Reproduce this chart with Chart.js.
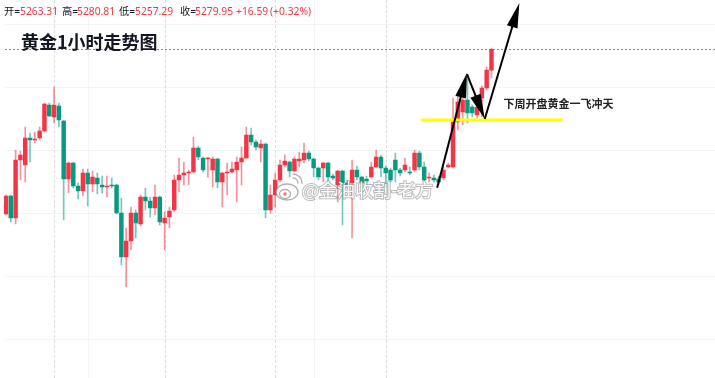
<!DOCTYPE html>
<html>
<head>
<meta charset="utf-8">
<script src="https://cdn.jsdelivr.net/npm/chart.js@4.4.1/dist/chart.umd.min.js"></script>
<style>
  body { margin: 0; background: #fff; }
</style>
</head>
<body>
<canvas id="chart_gold_1h" width="715" height="378"></canvas>
<script>
// 黄金 1小时 K线 (102 根)
var opens = [5149.20,5163.48,5146.02,5192.06,5188.08,5209.52,5207.92,5209.52,5215.08,5235.70,
  5226.18,5234.92,5223.00,5176.98,5189.68,5171.42,5167.46,5181.74,5173.00,5177.76,
  5172.22,5170.62,5172.22,5172.22,5150.00,5115.06,5127.76,5150.00,5141.26,5162.68,
  5159.52,5153.96,5162.68,5142.06,5146.82,5152.38,5176.18,5180.14,5181.74,5182.54,
  5201.58,5193.64,5192.84,5184.12,5192.84,5174.60,5181.74,5182.54,5184.12,5190.46,
  5193.64,5211.90,5206.34,5201.58,5204.76,5152.38,5164.28,5176.18,5188.08,5190.46,
  5183.32,5191.26,5192.06,5197.62,5192.84,5185.70,5185.70,5189.68,5179.36,5172.22,
  5183.32,5173.80,5173.80,5184.12,5178.56,5176.98,5178.56,5186.50,5194.44,5185.70,
  5184.12,5192.06,5184.12,5184.12,5182.54,5184.12,5197.62,5186.50,5177.76,5177.76,
  5176.98,5177.76,5186.50,5186.50,5222.22,5230.16,5239.68,5234.12,5227.76,5241.26,
  5249.20,5263.31]
var highs = [5164.28,5164.28,5200.00,5199.20,5218.24,5213.48,5214.28,5218.24,5237.30,5237.30,
  5250.00,5237.30,5223.80,5190.46,5190.46,5173.80,5184.92,5184.92,5183.32,5181.74,
  5179.36,5179.36,5177.76,5173.00,5161.90,5138.08,5154.76,5152.38,5164.28,5169.84,
  5162.68,5172.22,5163.48,5150.78,5154.76,5180.14,5193.64,5190.46,5184.12,5210.30,
  5203.16,5194.44,5194.44,5194.44,5193.64,5182.54,5189.68,5190.46,5194.44,5202.38,
  5218.24,5217.46,5207.92,5207.92,5205.54,5172.22,5181.74,5192.06,5196.02,5191.26,
  5194.44,5198.40,5205.54,5199.20,5193.64,5186.50,5190.46,5190.46,5180.94,5184.12,
  5184.12,5176.18,5192.06,5187.30,5179.36,5179.36,5190.46,5200.00,5196.02,5187.30,
  5185.70,5197.62,5185.70,5193.64,5186.50,5200.00,5199.20,5190.46,5181.74,5180.14,
  5179.36,5186.50,5189.68,5241.26,5243.64,5241.26,5259.52,5235.70,5236.50,5250.78,
  5265.86,5280.81]
var lows = [5148.40,5142.84,5141.26,5176.18,5174.60,5190.46,5205.54,5207.92,5214.28,5226.18,
  5221.42,5218.24,5144.44,5165.86,5169.84,5161.10,5163.48,5155.54,5166.66,5165.06,
  5165.86,5162.68,5169.84,5149.20,5108.72,5091.26,5120.62,5130.14,5139.68,5152.38,
  5146.82,5148.40,5140.46,5120.62,5138.08,5150.78,5166.66,5172.22,5172.22,5181.74,
  5192.06,5182.54,5178.56,5170.62,5169.84,5154.76,5164.28,5181.74,5158.72,5172.22,
  5192.84,5203.96,5200.00,5190.46,5146.02,5150.00,5154.76,5174.60,5186.50,5178.56,
  5182.54,5186.50,5189.68,5191.26,5178.56,5176.18,5174.60,5172.22,5176.18,5158.72,
  5140.46,5169.84,5130.14,5176.18,5165.86,5172.22,5177.76,5185.70,5178.56,5170.62,
  5174.60,5174.60,5179.36,5182.54,5180.14,5182.54,5184.12,5175.38,5174.60,5174.60,
  5172.22,5176.18,5185.70,5185.70,5215.86,5219.84,5221.42,5226.18,5225.38,5226.18,
  5247.62,5257.29]
var closes = [5163.48,5146.02,5192.06,5196.02,5209.52,5207.92,5208.72,5215.08,5236.50,5226.98,
  5235.70,5223.80,5176.98,5189.68,5171.42,5167.46,5181.74,5173.00,5178.56,5173.00,
  5170.62,5171.42,5171.42,5150.00,5115.06,5127.76,5150.00,5142.06,5162.68,5159.52,
  5153.96,5162.68,5142.84,5146.02,5151.58,5176.18,5180.14,5181.74,5182.54,5201.58,
  5194.44,5184.12,5193.64,5192.84,5174.60,5181.74,5182.54,5184.92,5190.46,5193.64,
  5211.90,5206.34,5202.38,5204.76,5152.38,5164.28,5176.18,5188.08,5191.26,5183.32,
  5192.84,5192.84,5197.62,5192.84,5185.70,5178.56,5189.68,5178.56,5177.76,5183.32,
  5173.80,5172.22,5184.12,5178.56,5173.80,5175.38,5186.50,5194.44,5185.70,5181.74,
  5176.18,5184.12,5181.74,5188.08,5181.74,5197.62,5186.50,5176.18,5178.56,5176.18,
  5174.60,5184.12,5188.08,5222.22,5238.08,5239.68,5229.36,5229.36,5234.12,5249.20,
  5263.48,5279.95]

var slotCount = 148          // 右侧留白
var gridPrices = [5300, 5250, 5200, 5150, 5100, 5050]
var gridCols = [17, 64]
var sessionBreaks = [10, 33, 56, 79]

// 画线标注 [x槽位, 价格]
var arrows = [
  [[89.7, 5170.0], [95.9, 5261.1]],
  [[95.9, 5260.3], [99.6, 5224.6]],
  [[99.6, 5224.6], [106.8, 5316.7]]
]
var supportLine = [86.3, 115.8, 5223.8]
var noteText = '下周开盘黄金一飞冲天'
var notePos = [103.5, 5236.5]

var headerParts = [
  ['开=', '#131722', 4], ['5263.31', '#f23645', 20],
  ['高=', '#131722', 62], ['5280.81', '#f23645', 77],
  ['低=', '#131722', 119], ['5257.29', '#f23645', 135],
  ['收=', '#131722', 180], ['5279.95', '#f23645', 195],
  ['+16.59', '#f23645', 236], ['(+0.32%)', '#f23645', 270]
]

var upColor = '#f23645', downColor = '#089981'
var upWick = 'rgba(242,54,69,0.55)', downWick = 'rgba(8,153,129,0.55)'

var labels = []
for (var i = 0; i < slotCount; i++) labels.push(String(i))

var isUp = closes.map(function(c, i) { return c >= opens[i] })

function drawArrow(ctx, x1, y1, x2, y2) {
  var ang = Math.atan2(y2 - y1, x2 - x1)
  var len = 25, hw = 5.5
  ctx.beginPath()
  ctx.moveTo(x1, y1)
  ctx.lineTo(x2 - Math.cos(ang) * 10, y2 - Math.sin(ang) * 10)
  ctx.stroke()
  var bx = x2 - Math.cos(ang) * len, by = y2 - Math.sin(ang) * len
  ctx.beginPath()
  ctx.moveTo(x2, y2)
  ctx.lineTo(bx + Math.sin(ang) * hw, by - Math.cos(ang) * hw)
  ctx.lineTo(bx - Math.sin(ang) * hw, by + Math.cos(ang) * hw)
  ctx.closePath()
  ctx.fill()
}

var overlay = {
  id: 'overlay',
  beforeDatasetsDraw: function(chart) {
    var ctx = chart.ctx, xs = chart.scales.x, ys = chart.scales.y
    var W = chart.width, H = chart.height
    ctx.save()
    ctx.lineWidth = 1
    ctx.strokeStyle = '#f2f3f5'
    gridPrices.forEach(function(p) {
      var y = Math.round(ys.getPixelForValue(p)) + 0.5
      ctx.beginPath(); ctx.moveTo(5, y); ctx.lineTo(W, y); ctx.stroke()
    })
    gridCols.forEach(function(c) {
      var x = Math.round(xs.getPixelForValue(c)) + 0.5
      ctx.beginPath(); ctx.moveTo(x, 0); ctx.lineTo(x, H); ctx.stroke()
    })
    ctx.strokeStyle = '#dedede'
    ctx.setLineDash([3, 2])
    sessionBreaks.forEach(function(c) {
      var x = Math.round(xs.getPixelForValue(c)) + 0.5
      ctx.beginPath(); ctx.moveTo(x, 0); ctx.lineTo(x, H); ctx.stroke()
    })
    // 现价线
    ctx.strokeStyle = 'rgba(242,54,69,0.8)'
    ctx.setLineDash([2, 2])
    var py = Math.round(ys.getPixelForValue(closes[closes.length - 1])) + 0.5
    ctx.beginPath(); ctx.moveTo(5, py); ctx.lineTo(W, py); ctx.stroke()
    ctx.restore()
  },
  afterDatasetsDraw: function(chart) {
    var ctx = chart.ctx, xs = chart.scales.x, ys = chart.scales.y
    ctx.save()

    // 支撑线
    ctx.strokeStyle = '#ffff00'
    ctx.lineWidth = 3
    var sy = ys.getPixelForValue(supportLine[2])
    ctx.beginPath()
    ctx.moveTo(xs.getPixelForValue(supportLine[0]), sy)
    ctx.lineTo(xs.getPixelForValue(supportLine[1]), sy)
    ctx.stroke()

    // 箭头
    ctx.strokeStyle = '#000'
    ctx.fillStyle = '#000'
    ctx.lineWidth = 2
    arrows.forEach(function(a) {
      drawArrow(ctx, xs.getPixelForValue(a[0][0]), ys.getPixelForValue(a[0][1]),
        xs.getPixelForValue(a[1][0]), ys.getPixelForValue(a[1][1]))
    })

    ctx.textBaseline = 'middle'
    ctx.textAlign = 'left'
    ctx.fillStyle = '#222'
    ctx.font = 'bold 11px "Noto Sans CJK SC"'
    ctx.fillText(noteText, xs.getPixelForValue(notePos[0]), ys.getPixelForValue(notePos[1]))

    // 水印
    ctx.lineWidth = 1.3
    ctx.strokeStyle = 'rgba(110,110,110,0.55)'
    ctx.fillStyle = 'rgba(255,255,255,0.92)'
    ctx.beginPath(); ctx.ellipse(287, 192, 11, 8, 0, 0, Math.PI * 2); ctx.fill(); ctx.stroke()
    ctx.beginPath(); ctx.ellipse(285, 194, 5.5, 4.5, 0, 0, Math.PI * 2); ctx.stroke()
    ctx.fillStyle = 'rgba(242,54,69,0.7)'
    ctx.beginPath(); ctx.arc(285, 194, 1.8, 0, Math.PI * 2); ctx.fill()
    ctx.beginPath(); ctx.arc(293, 183, 5, -1.6, 0.1); ctx.stroke()
    ctx.beginPath(); ctx.arc(293, 183, 9, -1.6, 0.1); ctx.stroke()
    ctx.font = '18px "Noto Sans CJK SC"'
    ctx.lineWidth = 2
    ctx.strokeStyle = 'rgba(120,120,120,0.5)'
    ctx.fillStyle = 'rgba(255,255,255,0.95)'
    ctx.strokeText('@金油收割-老方', 302, 190)
    ctx.fillText('@金油收割-老方', 302, 190)

    // 标题
    ctx.fillStyle = '#131722'
    ctx.font = 'bold 18px "Noto Sans CJK SC"'
    ctx.fillText('黄金1小时走势图', 21, 42)

    // 行情头
    ctx.font = '10.3px "Noto Sans", "Noto Sans CJK SC"'
    headerParts.forEach(function(p) {
      ctx.fillStyle = p[1]
      ctx.fillText(p[0], p[2], 12)
    })
    ctx.restore()
  }
}

var ctx = document.getElementById('chart_gold_1h')
var chartK = new Chart(ctx, {
  type: 'bar',
  data: {
    labels: labels,
    datasets: [
      {
        label: 'wick',
        data: lows.map(function(l, i) { return [l, highs[i]] }),
        backgroundColor: isUp.map(function(u) { return u ? upWick : downWick }),
        barThickness: 1,
        grouped: false,
        borderWidth: 0
      },
      {
        label: 'body',
        data: opens.map(function(o, i) { return [o, closes[i]] }),
        backgroundColor: isUp.map(function(u) { return u ? upColor : downColor }),
        barThickness: 3.8,
        minBarLength: 1,
        grouped: false,
        borderWidth: 0
      }
    ]
  },
  options: {
    responsive: false,
    devicePixelRatio: 1,
    animation: false,
    layout: { padding: { left: 3.6, right: 0, top: 0, bottom: 0 } },
    plugins: {
      legend: { display: false },
      tooltip: { enabled: false }
    },
    scales: {
      x: { display: false, offset: true },
      y: { display: false, min: 5019.05, max: 5319.05 }
    }
  },
  plugins: [overlay]
})
</script>
</body>
</html>
